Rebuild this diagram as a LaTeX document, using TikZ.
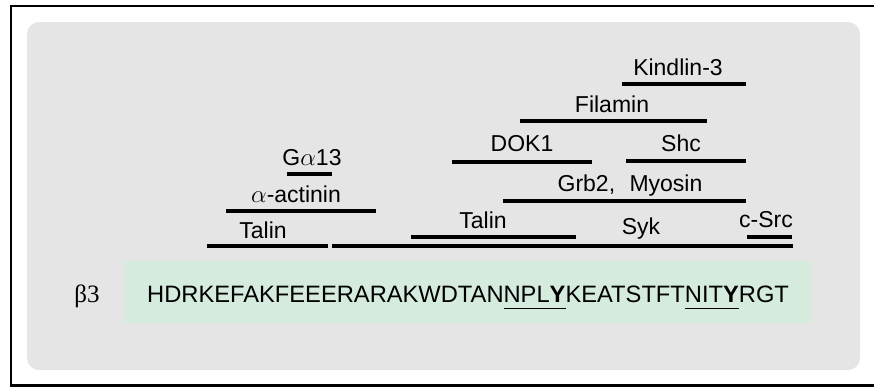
\documentclass[tikz,border=0pt]{standalone}
\usepackage{fontspec}
\setmainfont{Liberation Sans}
\newfontfamily\greekserif{Liberation Serif}
\definecolor{panelgray}{HTML}{E5E5E5}
\definecolor{seqgreen}{HTML}{D5EBDE}
\newcommand{\motif}[1]{\setbox0\hbox{#1}\rlap{\rule[-7pt]{\wd0}{1.5pt}}\box0}

\begin{document}
\begin{tikzpicture}[x=1pt,y=-1pt,
    bar/.style={line width=3.2pt},
    lab/.style={anchor=base,inner sep=0pt,font=\fontsize{23}{23}\selectfont}]
    \useasboundingbox(0,0)rectangle(874,386);
    \draw[line width=2.2pt](11,6)rectangle(876,385.5);
    \fill[panelgray,rounded corners=12pt](27,22)rectangle(860,370);
    \fill[seqgreen](125,261)rectangle(812,323);
    % binding regions
    \draw[bar](207,246)--(328,246);
    \draw[bar](332,246)--(793,246);
    \draw[bar](411,237)--(576,237);
    \draw[bar](747,237)--(792,237);
    \draw[bar](226,211)--(376,211);
    \draw[bar](287,174)--(332,174);
    \draw[bar](503,201)--(746,201);
    \draw[bar](452,162)--(592,162);
    \draw[bar](626,161)--(746,161);
    \draw[bar](520,121)--(707,121);
    \draw[bar](622,84)--(746,84);
    % labels
    \node[lab](kindlin)at(678,75){Kindlin-3};
    \node[lab](filamin)at(612,112){Filamin};
    \node[lab](dok)at(522,151){DOK1};
    \node[lab](shc)at(681,151){Shc};
    \node[lab](grb)at(630,191){Grb2,\hspace{8pt} Myosin};
    \node[lab](talinC)at(483,228){Talin};
    \node[lab](syk)at(641,234){Syk};
    \node[lab](csrc)at(766,227){c-Src};
    \node[lab](galpha)at(312,165){G$\alpha$13};
    \node[lab](actinin)at(296,202){$\alpha$-actinin};
    \node[lab](talinN)at(263,238){Talin};
    \node[lab,font=\fontsize{25}{25}\selectfont\greekserif](beta)at(87,302){β3};
    \node[lab,anchor=base west,font=\fontsize{23.7}{24}\selectfont](seq)at(147,302){HDRKEFAKFEEERARAKWDTAN\motif{NPL\textbf{Y}}KEATSTFT\motif{NIT\textbf{Y}}RGT};
\end{tikzpicture}
\end{document}
